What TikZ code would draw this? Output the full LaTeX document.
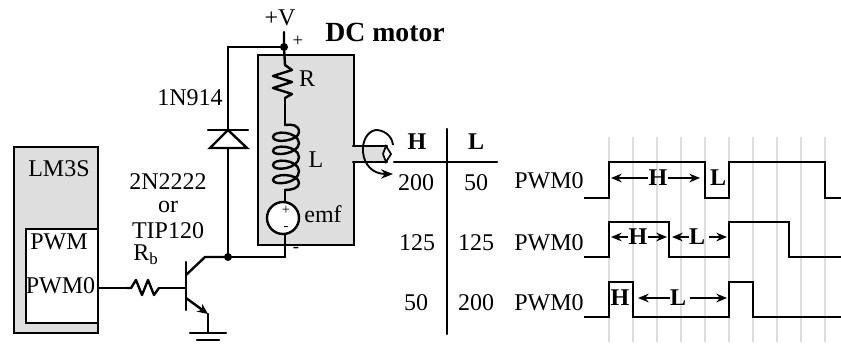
\documentclass[tikz,border=0pt]{standalone}
\usepackage{fontspec}
\setmainfont{Liberation Serif}
\usetikzlibrary{arrows.meta}
\definecolor{panelgray}{gray}{0.87}
\tikzset{
  wire/.style={line width=1.8pt,line cap=round,line join=miter},
  lbl/.style={inner sep=0pt,font=\fontsize{18}{20}\selectfont},
  blbl/.style={inner sep=0pt,font=\fontsize{18}{20}\selectfont\bfseries},
  titlelbl/.style={inner sep=0pt,font=\fontsize{20.8}{24}\selectfont\bfseries},
  smalllbl/.style={inner sep=0pt,font=\fontsize{14}{16}\selectfont},
  tinylbl/.style={inner sep=0pt,font=\fontsize{11}{12}\selectfont},
  panel/.style={draw=black,line width=1.8pt,fill=panelgray},
  gridline/.style={draw=panelgray,line width=1.5pt},
  dot/.style={circle,fill=black,inner sep=0pt,minimum size=6pt},
  dim/.style={line width=1.4pt,-{Stealth[length=8pt,width=6.5pt]}}
}
\begin{document}
\begin{tikzpicture}[x=0.75pt,y=-0.75pt]
\useasboundingbox (0,0) rectangle (841,347);
% microcontroller
\node[panel,minimum width=63pt,minimum height=139.5pt,inner sep=0pt,anchor=north west] (mcu) at (13,146) {};
\node[draw=black,fill=white,line width=1.8pt,minimum width=54pt,minimum height=70.5pt,inner sep=0pt,anchor=north west] (pwmbox) at (25,228) {};
\node[lbl] (lm) at (59,169) {LM3S};
\node[lbl] (pwm) at (59,242) {PWM};
\node[lbl] (pwm0) at (60.5,286) {PWM0};
% motor body
\node[panel,minimum width=72pt,minimum height=142.5pt,inner sep=0pt,anchor=north west] (motor) at (257,54) {};
% shaft
\fill[panelgray] (353,146) rectangle (387,162);
\draw[wire] (353,146) -- (387,146) (353,162) -- (387,162);
\draw[line width=1.3pt,fill=white] (386,146) -- (391,154) -- (386,162) -- (383,154) -- cycle;
\draw[line width=1.4pt,-{Stealth[length=9pt,width=7pt]}] (393,145) .. controls (392,135) and (383,130) .. (376,130) .. controls (367,131) and (362,142) .. (363,152) .. controls (364,164) and (372,174) .. (393,174);
% coordinates
\coordinate (vtop) at (284,32);
\node[dot] (vdot) at (284,47) {};
\node[dot] (cdot) at (228,257) {};
\coordinate (rtop) at (285,65);
\coordinate (rbot) at (285,98);
\coordinate (ltop) at (285,125);
\coordinate (lbot) at (285,190);
\node[draw=black,fill=white,circle,line width=1.8pt,minimum size=24pt,inner sep=0pt] (emf) at (283,218) {};
\coordinate (corner) at (285,257);
\coordinate (ctop) at (228,47);
% motor wiring
\draw[wire] (vtop) -- (vdot.center) -- (rtop);
\draw[wire,line join=round] (rtop) -- (292,70) -- (273,76) -- (292,82) -- (273,88) -- (292,94) -- (rbot);
\draw[wire] (rbot) -- (ltop);
\draw[wire,line join=round] (ltop) .. controls (292,124) and (299,125) .. (299,132)
  .. controls (299,141) and (273,144) .. (273,137) .. controls (273,130) and (298,131) .. (299,143)
  .. controls (299,154) and (273,157) .. (273,151) .. controls (273,144) and (298,145) .. (299,157)
  .. controls (299,169) and (273,172) .. (273,165) .. controls (273,158) and (298,159) .. (299,171)
  .. controls (299,184) and (273,186) .. (273,180) .. controls (273,173) and (299,173) .. (299,183)
  .. controls (299,188) and (292,190) .. (lbot);
\draw[wire] (lbot) -- (emf.north -| lbot);
\draw[wire] (emf.south -| corner) -- (corner) -- (cdot.center);
% diode branch
\draw[wire] (vdot.center) -- (ctop) -- (cdot.center);
\coordinate (dapex) at (228,130);
\draw[wire,fill=white] (dapex) -- (247,148) -- (210,148) -- cycle;
\draw[wire] (208,130) -- (248,130);
% transistor
\coordinate (bjt) at (186,288);
\coordinate (res1) at (127,288);
\coordinate (res2) at (159,288);
\draw[wire] (pwmbox.east |- bjt) -- (res1);
\draw[wire,line join=round] (res1) -- (131,288) -- (136,280) -- (142,295) -- (148,280) -- (154,295) -- (res2);
\draw[wire] (res2) -- (bjt);
\draw[wire] (186,262) -- (186,310);
\draw[wire] (186,275) -- (205,257) -- (cdot.center);
\draw[line width=1.8pt,-{Stealth[length=8pt,width=7pt]}] (186,298) -- (208,314);
\coordinate (gnd) at (208,333);
\draw[wire] (208,314) -- (gnd);
\draw[wire] (190,333) -- (226,333);
\draw[wire] (197,340) -- (219,340);
% circuit labels
\node[lbl] (vlbl) at (280,18) {+V};
\node[smalllbl] (pluslbl) at (298,41) {+};
\node[titlelbl] (dclbl) at (385,32) {DC motor};
\node[lbl] (rlbl) at (307,79) {R};
\node[lbl] (llbl) at (316,160) {L};
\node[lbl] (emflbl) at (323,214) {emf};
\node[tinylbl] (eplus) at (286,210) {+};
\node[tinylbl] (eminus) at (286,228) {-};
\node[smalllbl] (minuslbl) at (296,250) {-};
\node[lbl] (dname) at (190,98) {1N914};
\node[lbl] (q1) at (168,182) {2N2222};
\node[lbl] (q2) at (168,207) {or};
\node[lbl] (q3) at (168,231) {TIP120};
\node[lbl] (rb) at (146,255) {R\textsubscript{b}};
% table
\node[blbl] (th) at (417,142) {H};
\node[blbl] (tl) at (476,142) {L};
\draw[wire] (394,162) -- (497,162);
\draw[wire] (447,129) -- (447,334);
\node[lbl] (a1) at (416,183) {200};
\node[lbl] (b1) at (476,183) {50};
\node[lbl] (a2) at (417,243) {125};
\node[lbl] (b2) at (476,243) {125};
\node[lbl] (a3) at (416,303) {50};
\node[lbl] (b3) at (476,303) {200};
\node[lbl] (p1) at (549,181) {PWM0};
\node[lbl] (p2) at (549,243) {PWM0};
\node[lbl] (p3) at (549,303) {PWM0};
% grid
\foreach \gx in {609,633,657,681,705,729,753,777,801,825}
  \draw[gridline] (\gx,137) -- (\gx,342);
% waves
\draw[wire,line cap=butt] (584,198) -- (609,198) -- (609,162) -- (705,162) -- (705,198) -- (729,198) -- (729,162) -- (825,162) -- (825,198) -- (841,198);
\draw[wire,line cap=butt] (584,257) -- (609,257) -- (609,222) -- (669,222) -- (669,257) -- (729,257) -- (729,222) -- (789,222) -- (789,257) -- (841,257);
\draw[wire,line cap=butt] (584,317) -- (609,317) -- (609,282) -- (633,282) -- (633,317) -- (729,317) -- (729,282) -- (753,282) -- (753,317) -- (841,317);
% wave labels
\node[blbl] (h1) at (658,178) {H};
\draw[dim] (h1.west) -- (611,178);
\draw[dim] (h1.east) -- (700,178);
\node[blbl] (l1) at (718,178) {L};
\node[blbl] (h2) at (638,237) {H};
\draw[dim] (h2.west) -- (611,237);
\draw[dim] (h2.east) -- (667,237);
\node[blbl] (l2) at (697,237) {L};
\draw[dim] (l2.west) -- (672,237);
\draw[dim] ([xshift=3pt]l2.east) -- (727,237);
\node[blbl] (h3) at (620,298) {H};
\node[blbl] (l3) at (678,298) {L};
\draw[dim] (l3.west) -- (638,298);
\draw[dim] ([xshift=3pt]l3.east) -- (727,298);
\end{tikzpicture}
\end{document}
